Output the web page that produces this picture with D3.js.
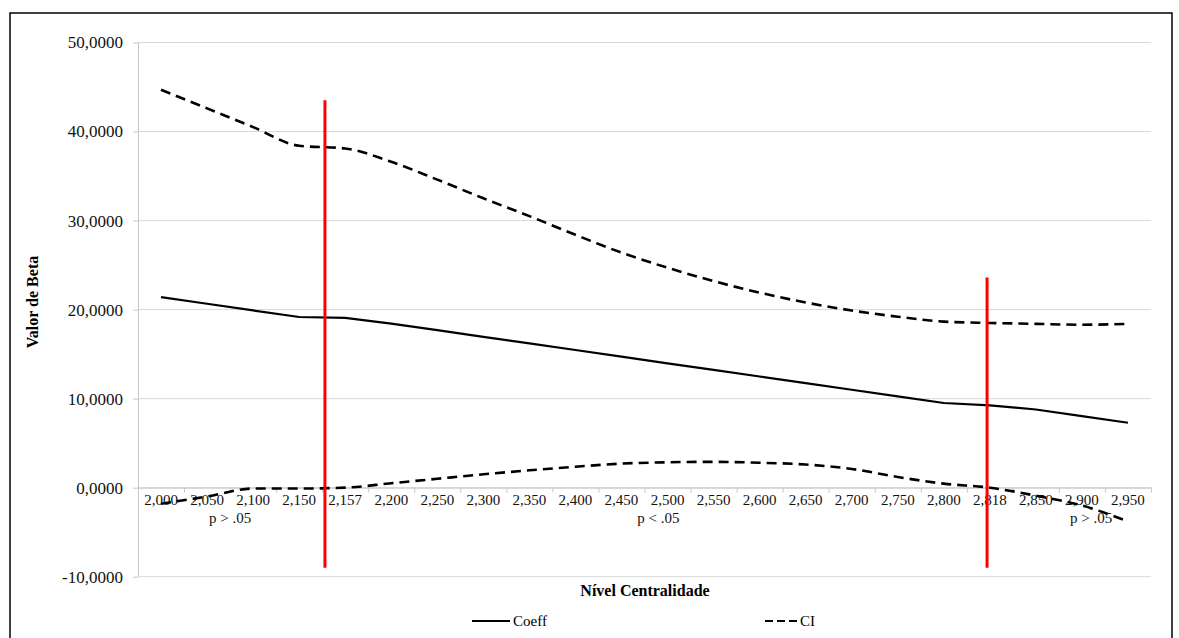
<!DOCTYPE html>
<html>
<head>
<meta charset="utf-8">
<script src="https://cdn.jsdelivr.net/npm/d3@7"></script>
<style>
  body { margin: 0; background: #fff; }
  .grid line { stroke: #d9d9d9; stroke-width: 1; }
  .axis path, .axis line { stroke: #c8c8c8; }
</style>
</head>
<body>
<svg id="chart" width="1179" height="638" font-family="'Liberation Serif', 'Times New Roman', serif"></svg>
<script>
// moderator values (Nível Centralidade), shown with comma decimals
const categories = [2.000, 2.050, 2.100, 2.150, 2.157, 2.200, 2.250, 2.300, 2.350, 2.400, 2.450,
                    2.500, 2.550, 2.600, 2.650, 2.700, 2.750, 2.800, 2.818, 2.850, 2.900, 2.950];

const coeff   = [21.40, 20.66, 19.91, 19.17, 19.07, 18.43, 17.69, 16.94, 16.20, 15.46, 14.71,
                 13.97, 13.23, 12.49, 11.74, 11.00, 10.26, 9.51, 9.25, 8.78, 8.03, 7.29];
const ciUpper = [44.7, 42.6, 40.5, 38.4, 38.1, 36.6, 34.6, 32.5, 30.5, 28.4, 26.4,
                 24.7, 23.2, 21.9, 20.8, 19.9, 19.2, 18.65, 18.5, 18.4, 18.3, 18.4];
const ciLower = [-1.8, -1.0, -0.1, -0.1, 0.0, 0.5, 1.0, 1.5, 1.95, 2.35, 2.7,
                 2.85, 2.9, 2.8, 2.6, 2.1, 1.2, 0.45, 0.0, -0.9, -2.0, -3.8];

const yTicks = [-10, 0, 10, 20, 30, 40, 50];

// Johnson-Neyman boundaries (position in category units, vertical extent in beta units)
const jnLines = [
    { at: 4.06,  top: 43.5, bottom: -9.0 },
    { at: 18.44, top: 23.6, bottom: -9.0 }
];
const regionLabels = [
    { at: 2.0,  text: "p > .05" },
    { at: 11.3, text: "p < .05" },
    { at: 20.7, text: "p > .05" }
];

const ptBR = d3.formatLocale({ decimal: ",", thousands: ".", grouping: [3], currency: ["", ""], minus: "-" });
const fmtY = ptBR.format(".4f");
const fmtX = ptBR.format(".3f");
const FONT = "'Liberation Serif', 'Times New Roman', serif";

const svg = d3.select("#chart");
const m = { left: 138, right: 1151, top: 42.5, bottom: 576.7 };

// outer frame
svg.append("rect").attr("x", 10).attr("y", 13).attr("width", 1162).attr("height", 640)
    .attr("fill", "none").attr("stroke", "#000").attr("stroke-width", 1.5);

const xi = d3.scaleLinear().domain([0, categories.length]).range([m.left, m.right]);
const xc = i => xi(i + 0.5);
const y = d3.scaleLinear().domain([-10, 50]).range([m.bottom, m.top]);

// grid
svg.append("g").attr("class", "grid").selectAll("line").data(yTicks).join("line")
    .attr("x1", m.left).attr("x2", m.right)
    .attr("y1", d => y(d)).attr("y2", d => y(d));

// y axis
const yAxis = svg.append("g").attr("class", "axis").attr("transform", `translate(${m.left},0)`)
    .call(d3.axisLeft(y).tickValues(yTicks).tickFormat(fmtY).tickSize(5).tickPadding(10).tickSizeOuter(0))
    .attr("font-family", FONT).attr("font-size", 17);
yAxis.selectAll("text").attr("fill", "#111");

// x axis at y=0, ticks between categories
svg.append("g").attr("class", "axis").attr("transform", `translate(0,${y(0)})`)
    .call(d3.axisBottom(xi).tickValues(d3.range(categories.length + 1)).tickFormat("").tickSize(5).tickSizeOuter(0));

svg.append("g").attr("transform", `translate(0,${y(0)})`)
    .attr("font-family", FONT).attr("font-size", 15).attr("fill", "#111")
    .selectAll("text").data(categories).join("text")
    .attr("x", (d, i) => xc(i)).attr("y", 17)
    .attr("text-anchor", "middle")
    .text(d => fmtX(d));

// series
const pts = arr => arr.map((v, i) => [xc(i), y(v)]);
const straight = d3.line();
const smooth = d3.line().curve(d3.curveMonotoneX);

svg.append("path").attr("d", smooth(pts(ciUpper)))
    .attr("fill", "none").attr("stroke", "#000").attr("stroke-width", 2.6).attr("stroke-dasharray", "10,6");
svg.append("path").attr("d", smooth(pts(ciLower)))
    .attr("fill", "none").attr("stroke", "#000").attr("stroke-width", 2.6).attr("stroke-dasharray", "10,6");
svg.append("path").attr("d", straight(pts(coeff)))
    .attr("fill", "none").attr("stroke", "#000").attr("stroke-width", 2.2);

// red boundary lines
svg.append("g").selectAll("line").data(jnLines).join("line")
    .attr("x1", d => xi(d.at)).attr("x2", d => xi(d.at))
    .attr("y1", d => y(d.top)).attr("y2", d => y(d.bottom))
    .attr("stroke", "#ff0000").attr("stroke-width", 3);

svg.append("g").attr("font-size", 15).attr("fill", "#111")
    .selectAll("text").data(regionLabels).join("text")
    .attr("x", d => xi(d.at)).attr("y", 523)
    .attr("text-anchor", "middle")
    .text(d => d.text);

// axis titles
svg.append("text").attr("x", 645).attr("y", 596).attr("text-anchor", "middle")
    .attr("font-size", 16).attr("font-weight", "bold").text("Nível Centralidade");
svg.append("text").attr("transform", "translate(38,302) rotate(-90)").attr("text-anchor", "middle")
    .attr("font-size", 16).attr("font-weight", "bold").text("Valor de Beta");

// legend
const legend = [
    { x: 472, w: 38, dash: null, text: "Coeff" },
    { x: 765, w: 32, dash: "8,4", text: "CI" }
];
const lg = svg.append("g").selectAll("g").data(legend).join("g");
lg.append("line").attr("x1", d => d.x).attr("x2", d => d.x + d.w).attr("y1", 621).attr("y2", 621)
    .attr("stroke", "#000").attr("stroke-width", 2.2).attr("stroke-dasharray", d => d.dash);
lg.append("text").attr("x", d => d.x + d.w + 3).attr("y", 626).attr("font-size", 15).text(d => d.text);
</script>
</body>
</html>
